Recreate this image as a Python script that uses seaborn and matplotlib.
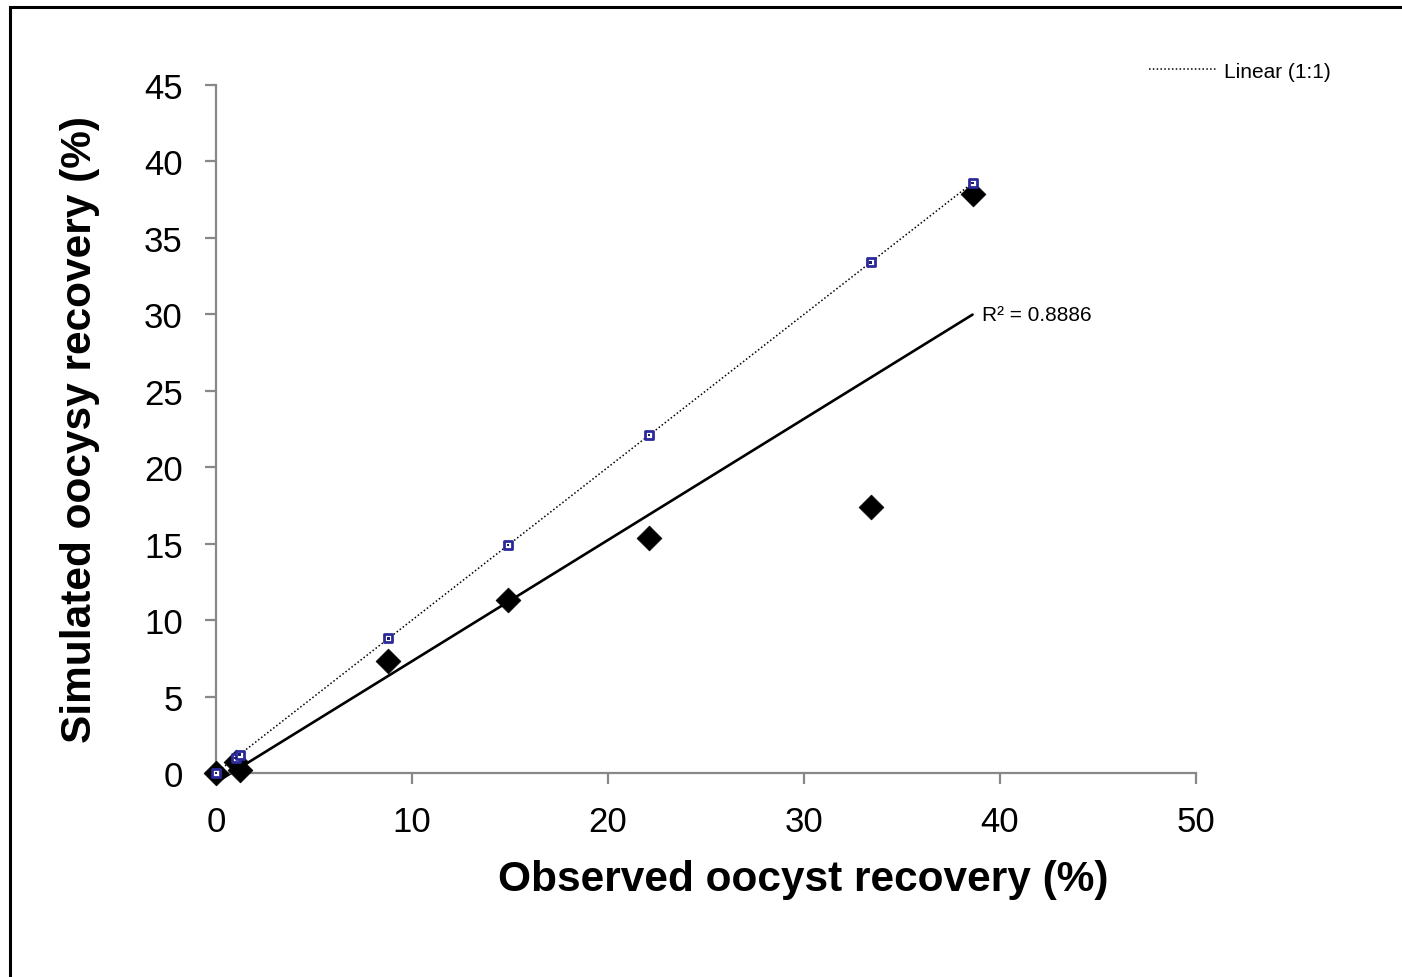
import numpy as np
import pandas as pd
import matplotlib
matplotlib.use("Agg")
import matplotlib.pyplot as plt
import seaborn as sns
from matplotlib.patches import Rectangle
from matplotlib.lines import Line2D

# Data
observed = [0.0, 1.0, 1.2, 8.8, 14.9, 22.1, 33.4, 38.6]
simulated = [0.0, 0.7, 0.2, 7.3, 11.3, 15.4, 17.4, 37.9]
x_ticks = [0, 10, 20, 30, 40, 50]
y_ticks = [0, 5, 10, 15, 20, 25, 30, 35, 40, 45]
r2_label = "R² = 0.8886"
legend_label = "Linear (1:1)"
x_label = "Observed oocyst recovery (%)"
y_label = "Simulated oocysy recovery (%)"

df = pd.DataFrame({"obs": observed, "sim": simulated, "one": observed})

sns.set_theme(style="white")
plt.rcParams["font.family"] = ["Liberation Sans", "DejaVu Sans"]
plt.rcParams["text.color"] = "black"
plt.rcParams["axes.labelcolor"] = "black"

fig = plt.figure(figsize=(14.02, 9.78), dpi=100)
ax = fig.add_axes([216 / 1402, 1 - 774 / 978, 980 / 1402, 688 / 978])

dot_style = (0, (1, 1.5))

# 1:1 line (dotted trendline) and its markers
sns.regplot(data=df, x="obs", y="one", ax=ax, ci=None, scatter=False, truncate=True,
            line_kws=dict(color="black", lw=1.1, ls=dot_style, clip_on=False))
sns.scatterplot(data=df, x="obs", y="one", ax=ax, marker="s", s=36,
                facecolor="white", edgecolor="#2a2a9c", linewidth=2.0, zorder=4, clip_on=False)
sns.scatterplot(data=df, x="obs", y="one", ax=ax, marker="s", s=3,
                facecolor="#1e1e70", edgecolor="none", zorder=5, clip_on=False)

# regression of simulated vs observed
sns.regplot(data=df, x="obs", y="sim", ax=ax, ci=None, scatter=False, truncate=True,
            line_kws=dict(color="black", lw=1.9, clip_on=False))
sns.scatterplot(data=df, x="obs", y="sim", ax=ax, marker="D", s=160,
                color="black", edgecolor="black", linewidth=0.5, zorder=3, clip_on=False)

ax.set_xlim(0, 50)
ax.set_ylim(0, 45)
ax.set_xticks(x_ticks)
ax.set_yticks(y_ticks)
ax.tick_params(axis="both", labelsize=25, colors="#888888", labelcolor="black",
               length=8, width=1.6, direction="out", left=True, bottom=True)
ax.tick_params(axis="x", pad=15)
ax.tick_params(axis="y", pad=16)
for side in ["top", "right"]:
    ax.spines[side].set_visible(False)
for side in ["left", "bottom"]:
    ax.spines[side].set_color("#888888")
    ax.spines[side].set_linewidth(1.6)

ax.set_xlabel(x_label, fontsize=30.5, fontweight="bold")
ax.set_ylabel(y_label, fontsize=30.5, fontweight="bold")
ax.xaxis.set_label_coords(0.599, -0.125)
ax.yaxis.set_label_coords(-0.118, 0.5)

ax.text(39.1, 30.0, r2_label, fontsize=15, va="center", ha="left")

# legend outside the axes, top right
handle = Line2D([], [], color="black", lw=1.1, ls=dot_style)
fig.legend([handle], [legend_label], loc="center right", bbox_to_anchor=(1350 / 1402, 1 - 72 / 978),
           frameon=False, fontsize=15, handlelength=3.2, handletextpad=0.4)

# figure border (left and top visible)
fig.patches.append(Rectangle((9.5 / 1402, -0.1), 1.2, 1 - 7.5 / 978 + 0.1, transform=fig.transFigure,
                             fill=False, edgecolor="black", lw=2.2, zorder=10))

fig.savefig("out.png", dpi=100)
